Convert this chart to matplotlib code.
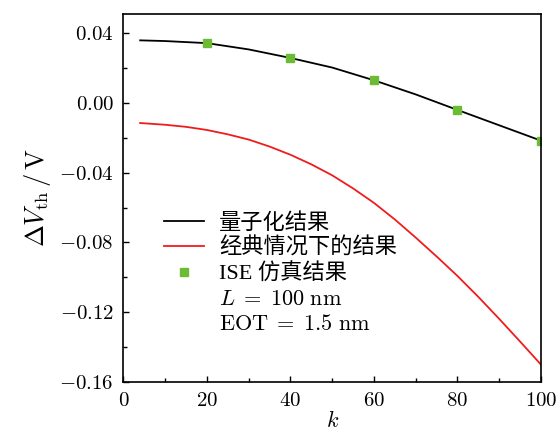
import numpy as np
import matplotlib
matplotlib.use('Agg')
import matplotlib.pyplot as plt
from matplotlib.lines import Line2D
from matplotlib.ticker import MultipleLocator, FuncFormatter

plt.rcParams['font.family'] = ['Liberation Serif', 'Noto Sans CJK SC']
plt.rcParams['mathtext.fontset'] = 'cm'

# 量子化结果 (black curve)
k_quant = [4, 10, 20, 30, 40, 50, 60, 70, 80, 90, 100]
dv_quant = [0.0359, 0.0355, 0.0343, 0.0307, 0.0258, 0.0203, 0.0130, 0.0049, -0.0040, -0.0128, -0.0216]

# 经典情况下的结果 (red curve)
k_class = [4, 10, 15, 20, 25, 30, 35, 40, 45, 50, 55, 60, 65, 70, 75, 80, 85, 90, 95, 100]
dv_class = [-0.0115, -0.0125, -0.0137, -0.0155, -0.0180, -0.0210, -0.0250, -0.0297, -0.0352,
            -0.0415, -0.0490, -0.0573, -0.0668, -0.0772, -0.0880, -0.0992, -0.1112, -0.1238,
            -0.1368, -0.1500]

# ISE 仿真结果
k_ise = [20, 40, 60, 80, 100]
dv_ise = [0.0344, 0.0260, 0.0130, -0.0040, -0.0216]

fig = plt.figure(figsize=(5.6, 4.34), dpi=100)
ax = fig.add_axes([0.2205, 0.1198, 0.7455, 0.8479])

ax.plot(k_quant, dv_quant, color='black', lw=1.3, label='量子化结果')
ax.plot(k_class, dv_class, color='#ee1c1c', lw=1.3, label='经典情况下的结果')
ax.plot(k_ise, dv_ise, ls='none', marker='s', ms=6, color='#6bbb35', label='ISE 仿真结果')

ax.set_xlim(0, 100)
ax.set_ylim(-0.16, 0.051)
ax.xaxis.set_major_locator(MultipleLocator(20))
ax.xaxis.set_minor_locator(MultipleLocator(10))
ax.yaxis.set_major_locator(MultipleLocator(0.04))
ax.yaxis.set_minor_locator(MultipleLocator(0.02))
ax.xaxis.set_major_formatter(FuncFormatter(lambda v, p: r'$%d$' % round(v)))
ax.yaxis.set_major_formatter(FuncFormatter(lambda v, p: r'$%.2f$' % v if abs(v) > 1e-9 else r'$0.00$'))
ax.tick_params(which='both', direction='in', labelsize=15, pad=7)
ax.tick_params(which='major', length=4, width=1)
ax.tick_params(which='minor', length=3, width=1)
for s in ax.spines.values():
    s.set_linewidth(1.2)

ax.set_xlabel(r'$k$', fontsize=16, labelpad=0)
ax.set_ylabel(r'$\Delta V_{\rm th}\,/\,\mathrm{V}$', fontsize=19, labelpad=4)

handles, labels = ax.get_legend_handles_labels()
blank = Line2D([], [], ls='none')
handles += [blank, blank]
labels += [r'$L\;=\;100\ \mathrm{nm}$', r'$\mathrm{EOT}\;=\;1.5\ \mathrm{nm}$']
ax.legend(handles, labels, loc='upper left', bbox_to_anchor=(0.075, 0.484),
          frameon=False, fontsize=16, handlelength=1.8, handletextpad=0.7,
          labelspacing=0.2, borderaxespad=0)

fig.savefig('out.png', dpi=100)
